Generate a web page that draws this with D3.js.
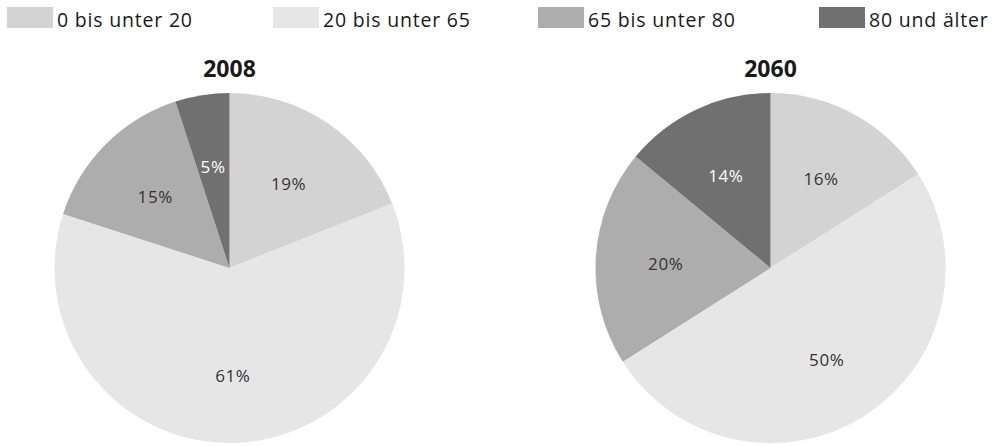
<!DOCTYPE html>
<html>
<head>
<meta charset="utf-8">
<script src="https://cdn.jsdelivr.net/npm/d3@7"></script>
<style>
  html, body { margin: 0; padding: 0; background: #fff; }
  svg { display: block; font-family: "Open Sans", "Noto Sans", sans-serif; }
</style>
</head>
<body>
<svg id="chart" width="1001" height="446"></svg>
<script>
// Altersgruppen und Anteile der Bevölkerung (in %)
const categories = ["0 bis unter 20", "20 bis unter 65", "65 bis unter 80", "80 und älter"];
const years = ["2008", "2060"];
const values2008 = [19, 61, 15, 5];
const values2060 = [16, 50, 20, 14];
const colors = ["#d3d3d3", "#e6e6e6", "#adadad", "#707070"];
const labelColors = ["#333333", "#333333", "#333333", "#ffffff"];

const svg = d3.select("#chart");

// Legende
const legendX = [7, 273, 538, 819];
const legend = svg.append("g");
categories.forEach((c, i) => {
  const g = legend.append("g").attr("transform", `translate(${legendX[i]},7)`);
  g.append("rect").attr("width", 46).attr("height", 21).attr("fill", colors[i]);
  g.append("text").attr("x", 50).attr("y", 19.5)
    .attr("font-size", 19.5).attr("letter-spacing", 0.8)
    .attr("fill", "#1a1a1a").text(c);
});

// Kreisdiagramme
const radius = 175;
const centers = [229.5, 770.5];
const cy = 268;
const pie = d3.pie().sort(null).value(d => d);
const arc = d3.arc().innerRadius(0).outerRadius(radius);
const labelArc = d3.arc().innerRadius(radius * 0.6).outerRadius(radius * 0.6);

[values2008, values2060].forEach((vals, k) => {
  const g = svg.append("g").attr("transform", `translate(${centers[k]},${cy})`);
  const arcs = pie(vals);
  g.selectAll("path").data(arcs).join("path")
    .attr("d", arc)
    .attr("fill", (d, i) => colors[i]);
  g.selectAll("text.lbl").data(arcs).join("text")
    .attr("class", "lbl")
    .attr("transform", d => {
      const [x, y] = labelArc.centroid(d);
      return `translate(${x},${y + 3})`;
    })
    .attr("text-anchor", "middle")
    .attr("dy", "0.35em")
    .attr("font-size", 17).attr("letter-spacing", 0.6)
    .attr("fill", (d, i) => labelColors[i])
    .text(d => d.data + "%");
  svg.append("text")
    .attr("x", centers[k]).attr("y", 77)
    .attr("text-anchor", "middle")
    .attr("font-size", 23).attr("font-weight", "bold").attr("fill", "#1a1a1a")
    .text(years[k]);
});
</script>
</body>
</html>
